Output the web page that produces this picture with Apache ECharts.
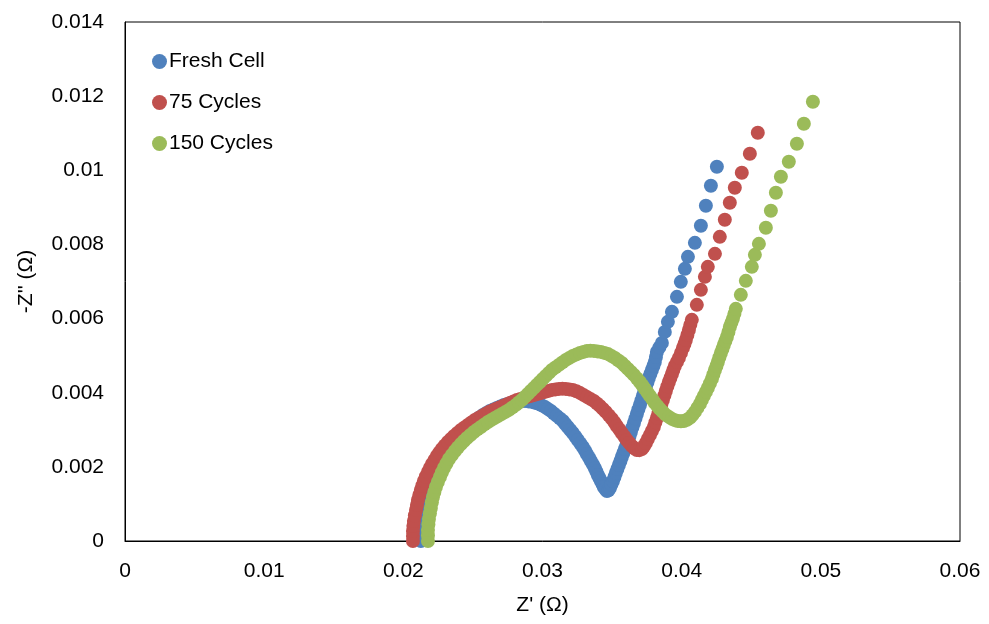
<!DOCTYPE html>
<html>
<head>
<meta charset="utf-8">
<title>Nyquist plot</title>
<script src="https://cdn.jsdelivr.net/npm/echarts@6/dist/echarts.min.js"></script>
<style>
    html, body { margin: 0; padding: 0; background: #fff; }
    #chart { width: 989px; height: 624px; }
</style>
</head>
<body>
<div id="chart"></div>
<script>
"use strict";

var seriesNames = ["Fresh Cell", "75 Cycles", "150 Cycles"];
var seriesColors = ["#4F81BD", "#C0504D", "#9BBB59"];

// [Z', -Z''] (dense low-frequency arc, sparse tail)
var freshCell = [
    [0.02126, 0], [0.02126, 0.000120], [0.02126, 0.000243], [0.02130, 0.000378], [0.02134, 0.000513],
    [0.02137, 0.000648], [0.02141, 0.000783], [0.02148, 0.000918], [0.02155, 0.001053], [0.02162, 0.001175],
    [0.02170, 0.001296], [0.02180, 0.001417], [0.02191, 0.001538], [0.02202, 0.001660], [0.02213, 0.001781],
    [0.02227, 0.001889], [0.02241, 0.001997], [0.02255, 0.002105], [0.02270, 0.002213], [0.02288, 0.002321],
    [0.02306, 0.002429], [0.02324, 0.002524], [0.02342, 0.002618], [0.02363, 0.002713], [0.02385, 0.002807],
    [0.02406, 0.002888], [0.02428, 0.002969], [0.02449, 0.003050], [0.02471, 0.003131], [0.02497, 0.003199],
    [0.02522, 0.003266], [0.02547, 0.003334], [0.02572, 0.003401], [0.02597, 0.003455], [0.02622, 0.003509],
    [0.02647, 0.003550], [0.02672, 0.003590], [0.02697, 0.003631], [0.02723, 0.003671], [0.02748, 0.003698],
    [0.02773, 0.003725], [0.02798, 0.003739], [0.02823, 0.003752], [0.02848, 0.003766], [0.02874, 0.003779],
    [0.02899, 0.003766], [0.02924, 0.003752], [0.02949, 0.003725], [0.02974, 0.003698], [0.02995, 0.003658],
    [0.03017, 0.003617], [0.03038, 0.003563], [0.03060, 0.003509], [0.03081, 0.003442], [0.03103, 0.003374],
    [0.03125, 0.003307], [0.03147, 0.003239], [0.03164, 0.003158], [0.03182, 0.003077], [0.03200, 0.002996],
    [0.03218, 0.002915], [0.03236, 0.002820], [0.03254, 0.002726], [0.03272, 0.002631], [0.03290, 0.002537],
    [0.03305, 0.002442], [0.03319, 0.002348], [0.03334, 0.002253], [0.03348, 0.002159], [0.03362, 0.002065],
    [0.03376, 0.001970], [0.03387, 0.001876], [0.03398, 0.001781], [0.03409, 0.001700], [0.03420, 0.001619],
    [0.03431, 0.001538], [0.03441, 0.001457], [0.03452, 0.001400], [0.03463, 0.001350], [0.03474, 0.001370],
    [0.03484, 0.001430], [0.03495, 0.001520], [0.03506, 0.001619], [0.03517, 0.001727], [0.03527, 0.001835],
    [0.03538, 0.001943], [0.03549, 0.002051], [0.03560, 0.002159], [0.03570, 0.002267], [0.03581, 0.002375],
    [0.03592, 0.002483], [0.03603, 0.002591], [0.03614, 0.002699], [0.03625, 0.002820], [0.03635, 0.002942],
    [0.03646, 0.003064], [0.03657, 0.003185], [0.03668, 0.003307], [0.03678, 0.003428], [0.03689, 0.003550],
    [0.03700, 0.003671], [0.03711, 0.003793], [0.03721, 0.003914], [0.03732, 0.004036], [0.03743, 0.004157],
    [0.03754, 0.004278], [0.03764, 0.004399], [0.03775, 0.004507], [0.03786, 0.004615], [0.03797, 0.004723],
    [0.03807, 0.004831], [0.03815, 0.004966], [0.03822, 0.005101], [0.03840, 0.005222], [0.03858, 0.005344],
    [0.03879, 0.005641], [0.03901, 0.005911], [0.03930, 0.006181], [0.03966, 0.006586], [0.03994, 0.006991],
    [0.04023, 0.007341], [0.04045, 0.007665], [0.04095, 0.008043], [0.04138, 0.008502], [0.04174, 0.009042],
    [0.04210, 0.009582], [0.04253, 0.010094]
];

var cycles75 = [
    [0.02069, 0], [0.02069, 0.000135], [0.02069, 0.000270], [0.02072, 0.000405], [0.02076, 0.000540],
    [0.02083, 0.000688], [0.02091, 0.000837], [0.02098, 0.000972], [0.02105, 0.001107], [0.02115, 0.001242],
    [0.02126, 0.001377], [0.02137, 0.001498], [0.02148, 0.001619], [0.02162, 0.001740], [0.02177, 0.001862],
    [0.02191, 0.001970], [0.02206, 0.002078], [0.02224, 0.002186], [0.02241, 0.002294], [0.02259, 0.002389],
    [0.02277, 0.002483], [0.02298, 0.002578], [0.02320, 0.002672], [0.02342, 0.002753], [0.02364, 0.002834],
    [0.02389, 0.002915], [0.02414, 0.002996], [0.02439, 0.003064], [0.02464, 0.003131], [0.02489, 0.003199],
    [0.02514, 0.003266], [0.02540, 0.003320], [0.02565, 0.003374], [0.02590, 0.003428], [0.02615, 0.003482],
    [0.02640, 0.003523], [0.02665, 0.003563], [0.02690, 0.003604], [0.02716, 0.003644], [0.02741, 0.003685],
    [0.02766, 0.003725], [0.02791, 0.003766], [0.02816, 0.003806], [0.02841, 0.003833], [0.02866, 0.003860],
    [0.02892, 0.003887], [0.02917, 0.003914], [0.02942, 0.003941], [0.02967, 0.003968], [0.02992, 0.003995],
    [0.03017, 0.004022], [0.03043, 0.004049], [0.03068, 0.004076], [0.03093, 0.004090], [0.03118, 0.004103],
    [0.03143, 0.004110], [0.03168, 0.004103], [0.03193, 0.004090], [0.03218, 0.004076], [0.03244, 0.004040],
    [0.03269, 0.003995], [0.03294, 0.003941], [0.03319, 0.003887], [0.03344, 0.003833], [0.03369, 0.003779],
    [0.03391, 0.003712], [0.03412, 0.003644], [0.03434, 0.003563], [0.03455, 0.003482], [0.03477, 0.003388],
    [0.03499, 0.003293], [0.03517, 0.003199], [0.03534, 0.003104], [0.03552, 0.003010], [0.03570, 0.002915],
    [0.03588, 0.002820], [0.03606, 0.002726], [0.03624, 0.002645], [0.03642, 0.002564], [0.03660, 0.002500],
    [0.03678, 0.002456], [0.03696, 0.002450], [0.03714, 0.002483], [0.03729, 0.002555], [0.03743, 0.002645],
    [0.03757, 0.002753], [0.03772, 0.002861], [0.03786, 0.002969], [0.03800, 0.003077], [0.03811, 0.003199],
    [0.03822, 0.003320], [0.03833, 0.003442], [0.03843, 0.003563], [0.03854, 0.003685], [0.03865, 0.003806],
    [0.03876, 0.003928], [0.03886, 0.004049], [0.03897, 0.004170], [0.03908, 0.004291], [0.03919, 0.004399],
    [0.03930, 0.004507], [0.03940, 0.004615], [0.03951, 0.004723], [0.03966, 0.004831], [0.03980, 0.004939],
    [0.03995, 0.005074], [0.04009, 0.005209], [0.04020, 0.005317], [0.04030, 0.005425], [0.04041, 0.005560],
    [0.04052, 0.005695], [0.04062, 0.005830], [0.04073, 0.005965], [0.04109, 0.006370], [0.04138, 0.006775],
    [0.04167, 0.007126], [0.04188, 0.007395], [0.04239, 0.007746], [0.04274, 0.008205], [0.04310, 0.008664],
    [0.04346, 0.009123], [0.04382, 0.009528], [0.04432, 0.009933], [0.04490, 0.010445], [0.04547, 0.011012]
];

var cycles150 = [
    [0.02177, 0], [0.02177, 0.000148], [0.02177, 0.000297], [0.02180, 0.000445], [0.02184, 0.000594],
    [0.02191, 0.000742], [0.02198, 0.000891], [0.02205, 0.001040], [0.02213, 0.001188], [0.02223, 0.001323],
    [0.02234, 0.001457], [0.02248, 0.001592], [0.02263, 0.001727], [0.02277, 0.001849], [0.02292, 0.001970],
    [0.02310, 0.002092], [0.02328, 0.002213], [0.02349, 0.002321], [0.02371, 0.002429], [0.02392, 0.002524],
    [0.02414, 0.002618], [0.02435, 0.002699], [0.02457, 0.002780], [0.02482, 0.002861], [0.02507, 0.002942],
    [0.02532, 0.003010], [0.02557, 0.003077], [0.02583, 0.003145], [0.02608, 0.003212], [0.02633, 0.003266],
    [0.02658, 0.003320], [0.02683, 0.003374], [0.02708, 0.003428], [0.02734, 0.003482], [0.02759, 0.003536],
    [0.02784, 0.003604], [0.02809, 0.003671], [0.02830, 0.003739], [0.02852, 0.003806], [0.02873, 0.003887],
    [0.02895, 0.003968], [0.02916, 0.004049], [0.02938, 0.004130], [0.02959, 0.004211], [0.02981, 0.004291],
    [0.03002, 0.004372], [0.03024, 0.004453], [0.03046, 0.004534], [0.03068, 0.004615], [0.03093, 0.004683],
    [0.03118, 0.004750], [0.03143, 0.004818], [0.03168, 0.004885], [0.03193, 0.004939], [0.03218, 0.004993],
    [0.03244, 0.005034], [0.03269, 0.005074], [0.03294, 0.005101], [0.03319, 0.005128], [0.03344, 0.005135],
    [0.03369, 0.005128], [0.03395, 0.005115], [0.03420, 0.005101], [0.03445, 0.005074], [0.03470, 0.005047],
    [0.03495, 0.004993], [0.03520, 0.004939], [0.03545, 0.004872], [0.03570, 0.004804], [0.03592, 0.004723],
    [0.03614, 0.004642], [0.03636, 0.004561], [0.03657, 0.004480], [0.03679, 0.004385], [0.03700, 0.004291],
    [0.03718, 0.004197], [0.03736, 0.004103], [0.03754, 0.004009], [0.03772, 0.003914], [0.03790, 0.003820],
    [0.03807, 0.003725], [0.03825, 0.003644], [0.03843, 0.003563], [0.03865, 0.003482], [0.03886, 0.003401],
    [0.03908, 0.003347], [0.03930, 0.003293], [0.03951, 0.003260], [0.03973, 0.003239], [0.03995, 0.003232],
    [0.04016, 0.003239], [0.04038, 0.003270], [0.04059, 0.003320], [0.04077, 0.003395], [0.04095, 0.003482],
    [0.04113, 0.003590], [0.04131, 0.003698], [0.04145, 0.003806], [0.04159, 0.003914], [0.04174, 0.004022],
    [0.04188, 0.004130], [0.04203, 0.004251], [0.04217, 0.004372], [0.04228, 0.004493], [0.04239, 0.004615],
    [0.04250, 0.004723], [0.04260, 0.004831], [0.04271, 0.004953], [0.04282, 0.005074], [0.04293, 0.005182],
    [0.04303, 0.005290], [0.04314, 0.005398], [0.04325, 0.005506], [0.04336, 0.005641], [0.04346, 0.005776],
    [0.04357, 0.005884], [0.04368, 0.005992], [0.04379, 0.006127], [0.04389, 0.006262], [0.04425, 0.006640],
    [0.04461, 0.007018], [0.04504, 0.007395], [0.04526, 0.007719], [0.04555, 0.008016], [0.04605, 0.008448],
    [0.04641, 0.008907], [0.04677, 0.009393], [0.04713, 0.009825], [0.04770, 0.010229], [0.04828, 0.010715],
    [0.04878, 0.011255], [0.04943, 0.011849]
];

var seriesData = [freshCell, cycles75, cycles150];

var xAxisName = "Z' (Ω)";
var yAxisName = "-Z'' (Ω)";

var fontFamily = "'Liberation Sans', Arial, sans-serif";
var fontSize = 21;

function tickFormatter(value) {
    return String(+value.toFixed(3));
}

var chart = echarts.init(document.getElementById("chart"), null, {renderer: "canvas"});

var series = seriesData.map(function (data, i) {
    return {
        name: seriesNames[i],
        type: "scatter",
        data: data,
        symbol: "circle",
        symbolSize: 14,
        itemStyle: {color: seriesColors[i], opacity: 1},
        emphasis: {disabled: true}
    };
});

var options = {
    backgroundColor: "#fff",
    animation: false,
    textStyle: {fontFamily: fontFamily},
    grid: {
        left: 125,
        right: 29,
        top: 22,
        bottom: 83,
        show: true,
        borderColor: "#000",
        borderWidth: 1,
        backgroundColor: "transparent"
    },
    legend: {
        orient: "vertical",
        left: 147,
        top: 46,
        itemWidth: 15,
        itemHeight: 15,
        itemGap: 20,
        icon: "circle",
        textStyle: {fontSize: fontSize, color: "#000", fontFamily: fontFamily, padding: [0, 0, 0, -3]},
        data: seriesNames
    },
    xAxis: {
        type: "value",
        min: 0,
        max: 0.06,
        interval: 0.01,
        name: xAxisName,
        nameLocation: "middle",
        nameGap: 54,
        nameTextStyle: {fontSize: fontSize, color: "#000", fontFamily: fontFamily},
        axisLine: {show: true, onZero: false, lineStyle: {color: "#000", width: 1}},
        axisTick: {show: false},
        splitLine: {show: false},
        axisLabel: {fontSize: fontSize, color: "#000", margin: 20, formatter: tickFormatter}
    },
    yAxis: {
        type: "value",
        min: 0,
        max: 0.014,
        interval: 0.002,
        name: yAxisName,
        nameLocation: "middle",
        nameGap: 88,
        nameRotate: 90,
        nameTextStyle: {fontSize: fontSize, color: "#000", fontFamily: fontFamily},
        axisLine: {show: true, onZero: false, lineStyle: {color: "#000", width: 1}},
        axisTick: {show: false},
        splitLine: {show: false},
        axisLabel: {fontSize: fontSize, color: "#000", margin: 21, formatter: tickFormatter}
    },
    series: series
};

chart.setOption(options);
</script>
</body>
</html>
